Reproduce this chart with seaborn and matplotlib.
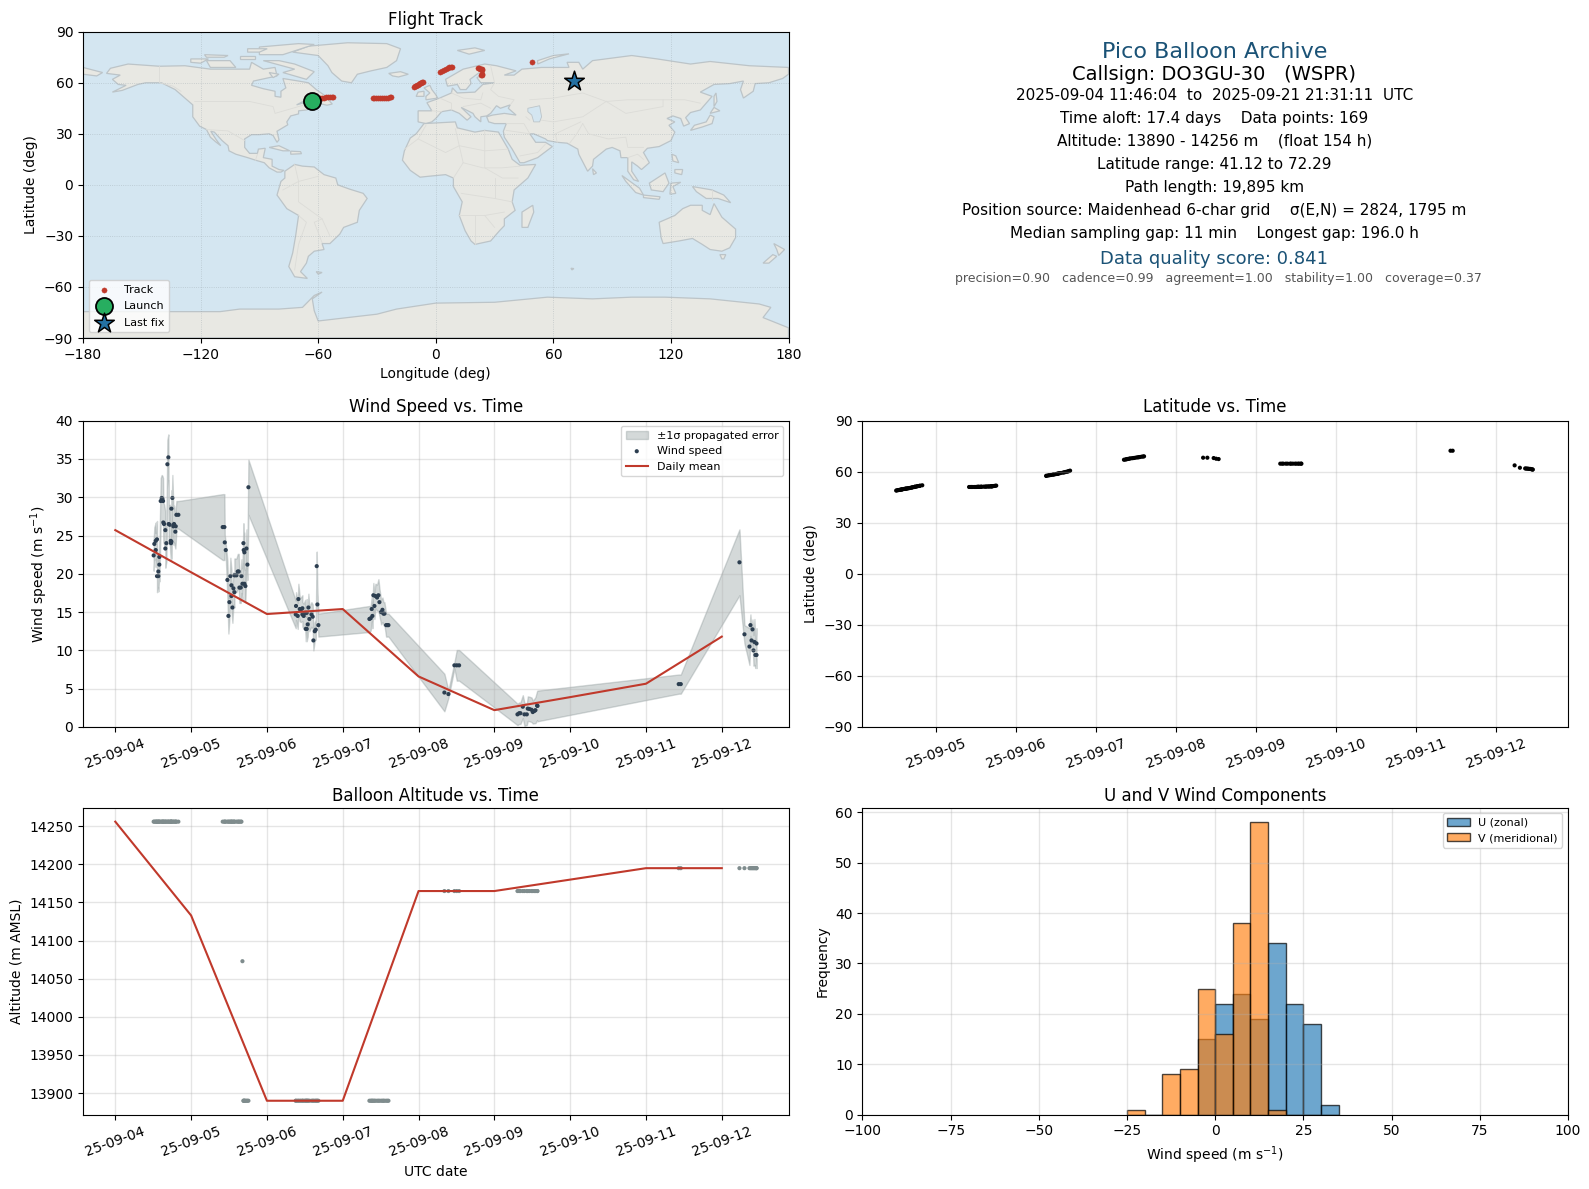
"""
Pico balloon flight summary panel for DO3GU-30
Values were read off the archive plot by eye
"""

import numpy as np
import pandas as pd
import matplotlib
matplotlib.use("Agg")
import matplotlib.pyplot as plt
import matplotlib.dates as mdates
import seaborn as sns

START = pd.Timestamp("2025-09-04")

# ---- per sample series: days since START, wind, 1 sigma, latitude ----
wind_day = [
    .506, .515, .533, .533, .550, .550, .568, .568, .581, .581, .599, .612, .621, .630, .634, .643, .660,
    .660, .674, .687, .700, .704, .718, .731, .735, .740, .740, .753, .766, .775, .792, .797, .806, .832,
    1.417, 1.439, 1.444, 1.457, 1.479, 1.492, 1.505, 1.518, 1.532, 1.532, 1.545, 1.558, 1.571, 1.571, 1.598,
    1.615, 1.628, 1.637, 1.655, 1.664, 1.677, 1.690, 1.694, 1.703, 1.703, 1.716, 1.730, 1.743, 1.756,
    2.380, 2.384, 2.406, 2.415, 2.433, 2.446, 2.468, 2.468, 2.485, 2.503, 2.512, 2.525, 2.525, 2.538, 2.547,
    2.560, 2.587, 2.604, 2.613, 2.631, 2.644, 2.657, 2.666, 2.679,
    3.352, 3.369, 3.382, 3.391, 3.404, 3.418, 3.431, 3.453, 3.471, 3.484, 3.506, 3.524, 3.537, 3.550, 3.572,
    3.590, 3.603,
    4.341, 4.394, 4.473, 4.504, 4.535,
    5.305, 5.327, 5.344, 5.375, 5.397, 5.428, 5.441, 5.463, 5.490, 5.507, 5.529, 5.542, 5.564, 5.569,
    7.432, 7.459,
    8.233, 8.299, 8.365, 8.378, 8.392, 8.405, 8.418, 8.431, 8.444, 8.458, 8.458,
]
wind_speed = [
    22.4, 23.9, 24.3, 23.1, 24.5, 19.7, 20.3, 19.7, 22.2, 21.2, 29.5, 29.9, 29.8, 29.5, 26.7, 26.5, 25.7,
    23.3, 24.0, 34.3, 35.2, 26.5, 26.4, 24.3, 24.0, 28.5, 24.2, 29.9, 26.2, 26.5, 25.5, 26.2, 27.7, 27.7,
    26.1, 26.1, 24.1, 23.1, 19.2, 14.5, 16.3, 19.7, 18.5, 17.1, 15.6, 18.1, 17.6, 19.8, 19.8,
    20.3, 20.3, 18.2, 18.2, 19.7, 18.7, 24.0, 23.1, 22.8, 18.7, 18.4, 23.3, 21.2, 31.3,
    14.7, 15.8, 14.5, 16.7, 15.4, 15.3, 15.5, 14.7, 14.5, 14.9, 12.8, 14.9, 12.8, 13.4, 15.6,
    14.1, 14.7, 14.4, 11.3, 12.5, 12.7, 21.0, 16.0, 13.3,
    14.1, 14.2, 15.4, 14.5, 17.2, 15.8, 17.1, 16.9, 17.2, 16.3, 15.0, 15.3, 14.8, 14.8, 13.3,
    13.3, 13.3,
    4.5, 4.3, 8.05, 8.05, 8.05,
    1.65, 1.8, 1.8, 2.65, 1.65, 1.65, 2.4, 2.35, 2.25, 1.95, 2.1, 2.2, 2.8, 2.75,
    5.6, 5.6,
    21.5, 12.1, 10.5, 13.3, 11.3, 12.75, 10.0, 11.1, 9.4, 10.9, 9.4,
]
wind_sigma = [
    2.0, 2.2, 2.4, 2.2, 2.4, 2.1, 2.1, 2.0, 2.2, 2.2, 3.0, 3.0, 3.0, 3.0, 2.6, 2.6, 2.4,
    2.5, 2.4, 3.2, 3.0, 2.6, 2.6, 2.2, 2.2, 2.4, 2.2, 3.0, 2.4, 2.4, 2.2, 2.2, 1.8, 1.8,
    4.3, 4.3, 1.0, 0.8, 2.5, 2.3, 2.2, 2.4, 2.0, 2.0, 2.0, 2.1, 2.0, 2.2, 2.2,
    2.3, 2.3, 2.0, 2.0, 2.2, 2.0, 2.6, 2.5, 2.5, 2.2, 2.1, 2.5, 2.0, 3.6,
    1.8, 1.8, 1.7, 2.0, 1.6, 1.6, 1.7, 1.6, 1.6, 1.7, 1.6, 1.8, 1.6, 1.6, 1.8,
    1.6, 1.6, 1.6, 1.3, 1.2, 1.3, 1.9, 1.5, 1.5,
    1.7, 1.6, 1.6, 1.6, 1.6, 1.7, 1.6, 1.7, 2.1, 1.8, 1.6, 1.6, 1.5, 1.5, 1.5,
    1.5, 1.5,
    2.45, 0.5, 0.4, 2.0, 2.0,
    1.4, 1.4, 1.4, 1.5, 1.5, 1.4, 1.6, 1.6, 1.6, 1.5, 1.6, 1.7, 1.9, 2.0,
    1.25, 1.25,
    4.3, 1.2, 2.4, 1.4, 1.2, 1.3, 2.0, 3.0, 1.7, 2.0, 1.7,
]
lat_deg = [
    48.9, 49.0, 49.2, 49.2, 49.3, 49.3, 49.5, 49.5, 49.6, 49.6, 49.8, 49.9, 50.0, 50.0, 50.1, 50.1, 50.3,
    50.3, 50.4, 50.5, 50.7, 50.7, 50.9, 51.0, 51.0, 51.1, 51.1, 51.2, 51.4, 51.5, 51.6, 51.6, 51.8, 52.0,
    51.0, 51.0, 51.0, 51.0, 51.0, 51.0, 51.0, 51.1, 51.1, 51.1, 51.1, 51.1, 51.1, 51.2, 51.2,
    51.2, 51.2, 51.3, 51.3, 51.3, 51.3, 51.4, 51.4, 51.4, 51.4, 51.5, 51.6, 51.7, 51.8,
    57.5, 57.6, 57.8, 57.9, 58.0, 58.1, 58.3, 58.3, 58.4, 58.6, 58.7, 58.8, 58.8, 59.0, 59.1,
    59.2, 59.4, 59.6, 59.7, 59.9, 60.0, 60.2, 60.4, 60.6,
    67.0, 67.1, 67.3, 67.4, 67.5, 67.6, 67.8, 67.9, 68.0, 68.1, 68.3, 68.4, 68.5, 68.6, 68.8,
    68.9, 69.0,
    68.2, 68.2, 68.0, 67.6, 67.4,
    64.7, 64.7, 64.7, 64.7, 64.7, 64.7, 64.7, 64.7, 64.7, 64.7, 64.7, 64.7, 64.7, 64.7,
    72.3, 72.3,
    63.7, 62.3, 61.9, 61.8, 61.8, 61.7, 61.6, 61.6, 61.4, 61.3, 61.2,
]
alt_m = (
    [14256] * 34 + [14256] * 20 + [14073] + [13890] * 8 + [13890] * 24 + [13890] * 17
    + [14165] * 5 + [14165] * 14 + [14195] * 2 + [14195] * 11
)

# ---- daily means ----
mean_day = [0, 1, 2, 3, 4, 5, 6, 7, 8]
mean_wind = [25.7, 20.2, 14.75, 15.4, 6.6, 2.2, 3.9, 5.65, 11.8]
mean_alt = [14256, 14133, 13890, 13890, 14165, 14165, 14180, 14195, 14195]

# ---- histogram counts ----
hist_left = list(range(-25, 35, 5))
u_counts = [0, 0, 0, 0, 15, 22, 24, 19, 34, 22, 18, 2]
v_counts = [1, 0, 8, 9, 25, 16, 38, 58, 1, 0, 0, 0]

# ---- map track ----
track_lon = [-62, -61, -60, -59, -58, -57, -56, -55, -54, -53, -52.5,
             -32.2, -31.3, -30.5, -29.5, -28.5, -27.5, -26.5, -25.5, -24.5, -23.5, -22.9,
             -11.1, -10.5, -10, -9.5, -9, -8.5, -8, -7.5, -7, -6.7,
             2.1, 3, 4, 5, 6, 7, 8, 8.4,
             21.5, 22, 22.5, 23, 23.5, 23.5, 23.4, 23.8, 23.2,
             49, 70.5]
track_lat = [49.3, 49.8, 50.4, 50.9, 51.2, 51.3, 51.4, 51.5, 51.5, 51.6, 51.6,
             51, 50.9, 50.9, 50.9, 51, 51, 51.1, 51.2, 51.3, 51.5, 51.7,
             57.4, 57.8, 58.1, 58.5, 58.8, 59.2, 59.6, 60, 60.3, 60.6,
             66.5, 67, 67.5, 68, 68.5, 69, 69.3, 69.5,
             68.5, 68.4, 68.3, 68.2, 68, 67.4, 65, 64.6, 64.8,
             72, 61]

# ---- coarse land outlines (lon, lat) ----
north_america = [(-168, 65.5), (-166, 68.5), (-157, 71), (-141, 69.7), (-128, 70), (-115, 68), (-108, 68), (-95, 68),
                 (-94, 72), (-88, 68), (-82, 69), (-81, 64), (-93, 61), (-94, 58.5), (-88, 56.5), (-82, 55), (-82, 52),
                 (-79, 51.5), (-79, 55), (-76.5, 57), (-78, 62.5), (-70, 61), (-65, 60), (-61, 56), (-56, 52), (-60, 50),
                 (-66, 50), (-71, 47), (-65, 49), (-64.5, 47), (-61, 46), (-66, 44), (-70, 43.5), (-70, 41.7), (-74, 40.5),
                 (-76, 37), (-75.5, 35.3), (-81, 31.5), (-80, 26.5), (-81, 25), (-83, 29), (-85, 30), (-90, 29.5),
                 (-94, 29.5), (-97.5, 27), (-97.5, 22), (-95, 18.5), (-91, 18.5), (-90.5, 21), (-87, 21.5), (-88, 16),
                 (-83.5, 15), (-83.5, 11), (-80, 9), (-77.5, 8.5), (-79, 7.5), (-81, 7.5), (-85, 10), (-87.5, 13), (-92, 14.5),
                 (-96, 16), (-102, 18), (-105.5, 20), (-106, 23), (-109, 26), (-113, 31), (-114.8, 31.5), (-112, 26.5),
                 (-109.7, 23), (-112, 25), (-115, 28), (-117, 32.5), (-120.5, 34.5), (-124, 40), (-124, 47), (-128, 51),
                 (-133, 56), (-140, 60), (-148, 60), (-152, 59), (-160, 55.5), (-165, 54.5), (-158, 58.5), (-162, 59),
                 (-165, 62), (-161, 64.5)]
south_america = [(-77, 8), (-72, 12), (-68, 11), (-62, 10.5), (-57, 6), (-51, 4), (-50, 0), (-44, -2.5), (-37, -5),
                 (-35, -8), (-39, -15), (-40, -22), (-47, -25), (-49, -29), (-54, -34.5), (-58, -34.5), (-57, -38),
                 (-62, -39), (-65, -42), (-66, -46), (-69, -51), (-65.5, -55), (-72, -54), (-75, -48), (-73, -40),
                 (-71.5, -30), (-70, -18), (-76, -14), (-81, -6), (-80, -2), (-79, 2), (-77, 4)]
greenland = [(-73, 78), (-65, 81.5), (-45, 83.5), (-25, 83), (-18, 80), (-20, 73), (-25, 69), (-33, 67), (-40, 65),
             (-43, 60), (-48, 61), (-53, 66), (-55, 70), (-60, 76)]
eurasia = [(-9, 37), (-9, 43.5), (-2, 43.5), (-4.5, 48.3), (2, 51), (8, 54), (8.5, 57), (11, 54), (20, 54.5), (24, 59),
           (30, 60), (23, 60), (21, 63), (25, 65.5), (22, 65.8), (17.5, 62), (18, 59.5), (15.5, 56), (12.5, 56), (11, 59),
           (6, 58), (5, 62), (14, 68), (25, 71), (31, 70), (41, 67), (35, 64.5), (40, 64.5), (44, 68), (54, 69), (68, 69),
           (67, 72), (73, 72), (75, 68), (80, 73), (100, 76), (113, 74), (130, 71), (140, 72.5), (160, 70), (180, 69),
           (180, 65), (177, 62.5), (170, 60), (163, 59.5), (162, 55), (157, 51), (155.5, 56), (157, 61), (150, 59.5),
           (142, 59), (135, 54.5), (141, 52), (135, 44), (130, 42.5), (127.5, 39.5), (129.5, 36), (126.5, 34.5), (125, 39),
           (121, 40.5), (118, 39), (122, 37), (119, 35), (122, 31), (120, 26), (114, 22.5), (108, 21.5), (106, 19),
           (109, 13), (105, 9), (103, 11), (100, 13.5), (100, 8), (103.5, 2), (101, 3), (98, 8), (98, 16), (94.5, 16),
           (94, 20), (90, 22), (87, 21), (80.5, 15), (80, 11), (77.5, 8), (73, 18), (72.5, 21), (67, 24.5), (62, 25),
           (57, 26), (56, 27), (50, 30), (48, 30), (51, 25), (56, 25), (59.5, 22.5), (52, 16), (45, 13), (43, 13), (39, 21),
           (35, 28), (34.5, 31.5), (36, 36), (30, 36), (27, 37), (26, 40), (29, 41), (35, 42), (41, 41), (37, 45), (38, 47),
           (33, 45), (31, 46.5), (28, 42), (26, 40.5), (23, 40), (23, 37), (20, 40), (19, 42), (13, 45.5), (18, 40), (16, 38),
           (12, 42), (8, 44), (3, 43), (0, 39), (-2, 37), (-5, 36)]
africa = [(-6, 36), (10, 37), (11, 33.5), (20, 31), (25, 32), (32, 31), (34, 27), (37, 21), (39, 15), (43, 11.5), (51, 12),
          (47, 4), (40, -3), (39, -10), (40.5, -15), (35, -20), (35, -24), (32.5, -27), (28, -33), (20, -35), (18, -33),
          (15, -27), (12, -18), (13.5, -10), (9, -1), (9, 4), (5, 6), (-4, 5), (-8, 4.5), (-13, 8.5), (-17, 14.5), (-16, 20),
          (-13, 27.5), (-10, 30)]
australia = [(114, -22), (122, -18), (126, -14), (130, -12), (136, -12), (136, -15), (140, -17.5), (142, -11), (146, -19),
             (153, -26), (153, -31), (150, -37), (146, -39), (140, -38), (136, -35), (131, -31.5), (124, -33), (116, -34.5),
             (115, -31)]
antarctica = [(-180, -84), (-180, -74.5), (-110, -74.5), (-100, -73), (-80, -73), (-68, -72), (-62, -65), (-58, -63),
              (-63, -67), (-62, -74), (-60, -80), (-45, -78), (-30, -76), (-20, -73), (0, -69.5), (30, -69), (57, -66),
              (80, -67), (100, -66), (117, -66), (140, -67), (165, -70), (171, -72), (167, -78), (180, -84), (180, -90),
              (-180, -90)]
islands = [
    [(-24, 65.5), (-18, 66.5), (-14, 65), (-19, 63.4), (-22, 64)],  # Iceland
    [(-5, 50), (1, 51), (0, 53), (-2, 56), (-3, 58.5), (-6, 57), (-3, 54), (-5, 52)],  # GB
    [(-10, 52), (-6, 52), (-6, 55), (-9, 54.5)],  # Ireland
    [(130, 32), (136, 34), (141, 36), (142, 40), (140, 41), (138, 37), (132, 35)],
    [(140, 42), (145, 43.5), (142, 45.5)],
    [(142, 46), (143.5, 49), (143, 54), (142, 52)],
    [(95, 5.5), (104, -2), (106, -6), (102, -4.5), (97, 2)],  # Sumatra
    [(106, -6), (114.5, -7), (114, -8.5), (106, -7.5)],
    [(109, 1), (117, 7), (119, 1), (116, -4), (110, -3)],  # Borneo
    [(120, 1), (125, 1.5), (121, -1), (122.5, -5), (119.5, -5.5)],
    [(120.5, 18), (122.5, 17), (124, 13), (121, 14)],
    [(122, 9), (126, 9), (125.5, 6), (122, 7)],
    [(131, -1), (141, -3), (147, -6), (150.5, -10.5), (144, -8), (138, -8), (133, -4)],  # New Guinea
    [(44, -16), (49.5, -12), (50, -16), (47, -25), (44, -25)],  # Madagascar
    [(172.5, -34.5), (178, -38), (175, -41.5), (174, -38)],
    [(172, -41), (174, -42), (170, -46), (167, -46)],
    [(145, -41), (148, -41), (147, -43.5), (146, -43.5)],
    [(-85, 22), (-80, 23), (-74.5, 20), (-78, 20)],  # Cuba
    [(-74, 19.8), (-69, 19.5), (-68.5, 18.3), (-74, 18)],
    [(-59, 47.7), (-56, 51.5), (-52.8, 47.5), (-55.5, 46.8)],  # Newfoundland
    [(-80, 73), (-72, 71), (-62, 66.5), (-66, 62), (-72, 64), (-78, 66), (-72, 68), (-88, 73)],  # Baffin
    [(-90, 76.5), (-78, 76.5), (-62, 82.5), (-70, 83), (-90, 81)],  # Ellesmere
    [(-117, 73), (-105, 73), (-102, 69), (-115, 69)],  # Victoria
    [(-125, 74), (-116, 74), (-120, 71.5), (-125, 72)],
    [(-100, 76), (-92, 76), (-92, 74), (-100, 74)],
    [(-118, 76.5), (-106, 76), (-108, 75), (-117, 75)],
    [(-96, 80), (-86, 80), (-90, 78), (-96, 78)],
    [(-85, 66), (-80, 65), (-83, 63)],
    [(11, 79), (20, 80.5), (25, 79), (17, 76.8)],  # Svalbard
    [(52, 71), (58, 74), (68, 77), (60, 76), (52, 73)],  # Novaya Zemlya
    [(80, 9.5), (82, 7), (80.5, 6)],
    [(-180, 69), (-170, 66), (-173, 64), (-180, 65)],
    [(-61, -51), (-58, -51.5), (-60, -52.5)],
    [(69, -49), (70.5, -49.2), (69.5, -50)],
]
# inland water, drawn in the ocean colour
lakes = [
    [(47, 45), (53, 46.5), (54, 40), (53, 37), (50, 37), (49, 41), (47, 43)],
]
# a few faint political borders
borders = [
    [(-141, 69.7), (-141, 60), (-134, 58), (-130, 55)], [(-123, 49), (-95, 49), (-83, 46), (-82, 42), (-76, 44), (-70, 46), (-67, 47)],
    [(-117, 32.5), (-106, 31.7), (-97.5, 26)], [(-92, 14.5), (-91, 18)], [(-72, 12), (-70, 2), (-70, -10), (-58, -20), (-54, -30)],
    [(-60, 5), (-70, 2), (-78, -3)], [(-70, -18), (-66, -22), (-70, -35), (-72, -50)], [(-58, -20), (-62, -22), (-58, -34)],
    [(-9, 27), (5, 19), (12, 23), (25, 20), (37, 21)], [(-5, 35), (-9, 27), (-16, 21)], [(10, 33), (12, 23), (14, 13), (9, 4)],
    [(25, 32), (25, 10), (34, 4), (42, 4)], [(14, 13), (24, 10), (34, 10), (43, 11)], [(13, -5), (30, -8), (39, -10)],
    [(12, -18), (25, -18), (35, -16)], [(20, -18), (20, -35)], [(30, -8), (30, 4)], [(25, -18), (30, -25)],
    [(-2, 43.5), (3, 43)], [(2, 51), (8, 48), (8, 44)], [(8, 54), (14, 51), (23, 50), (24, 54)], [(14, 46), (23, 48), (28, 45)],
    [(28, 70), (30, 60), (28, 56), (32, 52), (40, 50), (38, 47)], [(48, 50), (60, 51), (75, 54), (87, 49), (98, 50), (116, 50), (127, 50), (135, 48)],
    [(87, 49), (75, 40), (60, 37), (54, 38)], [(87, 49), (97, 42), (116, 46), (116, 50)], [(75, 36), (78, 30), (88, 27), (97, 28), (98, 22), (106, 22)],
    [(62, 25), (61, 30), (74, 37)], [(48, 30), (45, 36), (36, 36)], [(46, 40), (48, 38)], [(36, 32), (48, 30)], [(43, 17), (52, 19), (56, 24)],
    [(68, 24), (72, 30), (75, 36)], [(98, 16), (103, 18), (106, 15)], [(141, -3), (141, -9)],
]

# ---- summary text: label, size, colour, centre x, centre y (reference pixels) ----
info_lines = [
    ("Pico Balloon Archive", 16, "#1a5276", 1214.5, 51.7),
    ("Callsign: DO3GU-30   (WSPR)", 14, "black", 1214.5, 74.5),
    ("2025-09-04 11:46:04  to  2025-09-21 21:31:11  UTC", 11, "black", 1214.5, 95),
    ("Time aloft: 17.4 days    Data points: 169", 11, "black", 1214.5, 118),
    ("Altitude: 13890 - 14256 m    (float 154 h)", 11, "black", 1214.5, 141),
    ("Latitude range: 41.12 to 72.29", 11, "black", 1214.5, 164),
    ("Path length: 19,895 km", 11, "black", 1214.5, 187.5),
    ("Position source: Maidenhead 6-char grid    σ(E,N) = 2824, 1795 m", 11, "black", 1214.5, 210.5),
    ("Median sampling gap: 11 min    Longest gap: 196.0 h", 11, "black", 1214.5, 233.5),
    ("Data quality score: 0.841", 13, "#1a5276", 1214.5, 258.5),
    ("precision=0.90   cadence=0.99   agreement=1.00   stability=1.00   coverage=0.37", 9, "#555555", 1218.5, 278.5),
]

RED = "#c0392b"
GREY = "#7f8c8d"
NAVY = "#2c3e50"
OCEAN = "#d4e6f1"
LAND = "#e8e8e3"
W, H = 1589, 1189


def to_time(days):
    return START + pd.to_timedelta(np.asarray(days, dtype=float), unit="D")


def make_axes(fig, left, right, top, bottom):
    # pixel box from the reference -> figure fractions
    return fig.add_axes([left / W, 1 - bottom / H, (right - left) / W, (bottom - top) / H])


def date_axis(ax, lo, hi):
    ax.set_xlim(to_time([lo])[0], to_time([hi])[0])
    ax.xaxis.set_major_locator(mdates.DayLocator())
    ax.xaxis.set_major_formatter(mdates.DateFormatter("%y-%m-%d"))
    ax.tick_params(axis="x", rotation=20)
    ax.grid(True, alpha=0.33, linewidth=1)


def main():
    df = pd.DataFrame({
        "time": to_time(wind_day),
        "wind": wind_speed,
        "sigma": wind_sigma,
        "lat": lat_deg,
        "alt": alt_m,
    })
    daily = pd.DataFrame({"time": to_time(mean_day), "wind": mean_wind, "alt": mean_alt})

    fig = plt.figure(figsize=(W / 100, H / 100), dpi=100)

    # Flight track
    ax = make_axes(fig, 83, 788.5, 31.7, 338)
    ax.set_facecolor(OCEAN)
    for poly in [north_america, south_america, greenland, eurasia, africa, australia, antarctica] + islands:
        xs, ys = zip(*poly)
        ax.fill(xs, ys, facecolor=LAND, edgecolor="#bcc4c8", linewidth=0.9)
    for poly in lakes:
        xs, ys = zip(*poly)
        ax.fill(xs, ys, facecolor=OCEAN, edgecolor="#bcc4c8", linewidth=0.6)
    for line in borders:
        xs, ys = zip(*line)
        ax.plot(xs, ys, color="#dcdcd8", linewidth=0.6)
    sns.scatterplot(x=track_lon, y=track_lat, s=14, color=RED, edgecolor=RED, ax=ax, label="Track", zorder=3)
    sns.scatterplot(x=[-63], y=[49], s=150, color="#27ae60", edgecolor="black", linewidth=1.3,
                    ax=ax, label="Launch", zorder=4)
    sns.scatterplot(x=[70.5], y=[61], s=220, marker="*", color="#2471a3", edgecolor="black", linewidth=1.1,
                    ax=ax, label="Last fix", zorder=5)
    ax.set_xlim(-180, 180)
    ax.set_ylim(-90, 90)
    ax.set_xticks(np.arange(-180, 181, 60))
    ax.set_yticks(np.arange(-90, 91, 30))
    ax.grid(True, color="#9aa5ab", linestyle=":", linewidth=0.6, alpha=0.5)
    ax.set_title("Flight Track", fontsize=12, pad=5)
    ax.set_xlabel("Longitude (deg)")
    ax.set_ylabel("Latitude (deg)")
    ax.legend(loc="lower left", fontsize=8, framealpha=0.8, labelspacing=0.6, borderaxespad=0.5)

    # Summary block
    for text, size, color, px, py in info_lines:
        fig.text(px / W, 1 - py / H, text, ha="center", va="center", fontsize=size, color=color)

    # Wind speed
    ax = make_axes(fig, 83, 788.5, 420.6, 727)
    ax.fill_between(df["time"], df["wind"] - df["sigma"], df["wind"] + df["sigma"], color=GREY, alpha=0.33,
                    label="±1σ propagated error")
    sns.scatterplot(data=df, x="time", y="wind", s=9, color=NAVY, edgecolor="none", ax=ax, label="Wind speed")
    sns.lineplot(data=daily, x="time", y="wind", color=RED, linewidth=1.5, errorbar=None, ax=ax, label="Daily mean")
    date_axis(ax, -0.426, 8.88)
    ax.set_ylim(0, 40)
    ax.set_title("Wind Speed vs. Time", fontsize=12, pad=6)
    ax.set_xlabel("")
    ax.set_ylabel("Wind speed (m s$^{-1}$)")
    ax.legend(loc="upper right", fontsize=8, framealpha=0.8)

    # Latitude
    ax = make_axes(fig, 862.4, 1568, 420.6, 727)
    sns.scatterplot(data=df, x="time", y="lat", s=9, color="black", edgecolor="none", ax=ax)
    date_axis(ax, 0.084, 8.9)
    ax.set_ylim(-90, 90)
    ax.set_yticks(np.arange(-90, 91, 30))
    ax.set_title("Latitude vs. Time", fontsize=12, pad=6)
    ax.set_xlabel("")
    ax.set_ylabel("Latitude (deg)")

    # Altitude
    ax = make_axes(fig, 83, 788.5, 807.7, 1114.7)
    sns.scatterplot(data=df, x="time", y="alt", s=9, color=GREY, edgecolor="none", ax=ax)
    sns.lineplot(data=daily, x="time", y="alt", color=RED, linewidth=1.5, errorbar=None, ax=ax)
    date_axis(ax, -0.426, 8.88)
    ax.set_ylim(13871.7, 14274.3)
    ax.set_yticks(np.arange(13900, 14251, 50))
    ax.set_title("Balloon Altitude vs. Time", fontsize=12, pad=4.5)
    ax.set_xlabel("UTC date")
    ax.set_ylabel("Altitude (m AMSL)")

    # U / V histogram
    ax = make_axes(fig, 862.4, 1568, 807.7, 1114.7)
    edges = list(range(-25, 40, 5))
    centers = [left + 2.5 for left in hist_left]
    edge_rgba = (0, 0, 0, 0.7)
    sns.histplot(x=centers, weights=u_counts, bins=edges, color="#1f77b4", alpha=0.65, edgecolor=edge_rgba,
                 linewidth=1, ax=ax, label="U (zonal)")
    sns.histplot(x=centers, weights=v_counts, bins=edges, color="#ff7f0e", alpha=0.65, edgecolor=edge_rgba,
                 linewidth=1, ax=ax, label="V (meridional)")
    ax.set_xlim(-100, 100)
    ax.set_ylim(0, 60.9)
    ax.grid(True, alpha=0.33, linewidth=1)
    ax.set_title("U and V Wind Components", fontsize=12, pad=4.5)
    ax.set_xlabel("Wind speed (m s$^{-1}$)")
    ax.set_ylabel("Frequency")
    ax.legend(loc="upper right", fontsize=8, framealpha=0.8)

    fig.savefig("out.png", dpi=100)
    plt.close(fig)


if __name__ == "__main__":
    main()
